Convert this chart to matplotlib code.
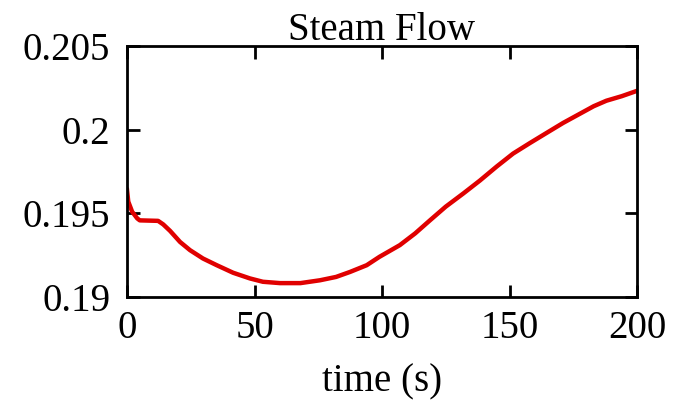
import matplotlib.pyplot as plt

plt.rcParams['font.family'] = ['Liberation Serif', 'DejaVu Serif']

# Steam flow
tiempo = [0, 0.5, 2, 4, 5, 12.2, 14.2, 16.9, 20.8, 24.7, 29.8, 35.2, 41.6, 48.2, 53.3, 60, 68, 75.7, 82, 87.5,
          94, 99, 107, 113, 118.8, 125, 132, 138.4, 145, 151.4, 158, 164.7, 171, 177.6, 183, 188, 194, 200]
flujo = [0.1964, 0.1957, 0.1951, 0.1947, 0.19458, 0.19455, 0.19434, 0.19395, 0.19329, 0.1928, 0.1923, 0.1919,
         0.19145, 0.19111, 0.19091, 0.19083, 0.19083, 0.1910, 0.1912, 0.1915, 0.1919, 0.1924,
         0.1931, 0.1938, 0.19458, 0.1954, 0.1962, 0.19696, 0.1978, 0.19857, 0.1992, 0.19982, 0.2004,
         0.20095, 0.2014, 0.20173, 0.2020, 0.20232]

x_ticks = [0, 50, 100, 150, 200]
y_ticks = [0.19, 0.195, 0.2, 0.205]
y_labels = ["0.19", "0.195", "0.2", "0.205"]

fig = plt.figure(figsize=(6.74, 4.11), dpi=100)
ax = fig.add_axes([127 / 674, 1 - 297 / 411, 510 / 674, 251 / 411])

ax.plot(tiempo, flujo, color="#e00000", linewidth=3.2)

ax.set_xlim(0, 200)
ax.set_ylim(0.19, 0.205)
ax.set_xticks(x_ticks)
ax.set_xticklabels([str(t) for t in x_ticks])
ax.set_yticks(y_ticks)
ax.set_yticklabels(y_labels)
ax.tick_params(direction="in", length=9, width=2, labelsize=28, top=True, right=True)
ax.tick_params(axis="y", pad=12)
ax.tick_params(axis="x", pad=9)
for s in ax.spines.values():
    s.set_linewidth(2)

ax.set_title("Steam Flow", fontsize=28, pad=4)
ax.set_xlabel("time (s)", fontsize=28, labelpad=12)

fig.savefig("out.png", dpi=100)
